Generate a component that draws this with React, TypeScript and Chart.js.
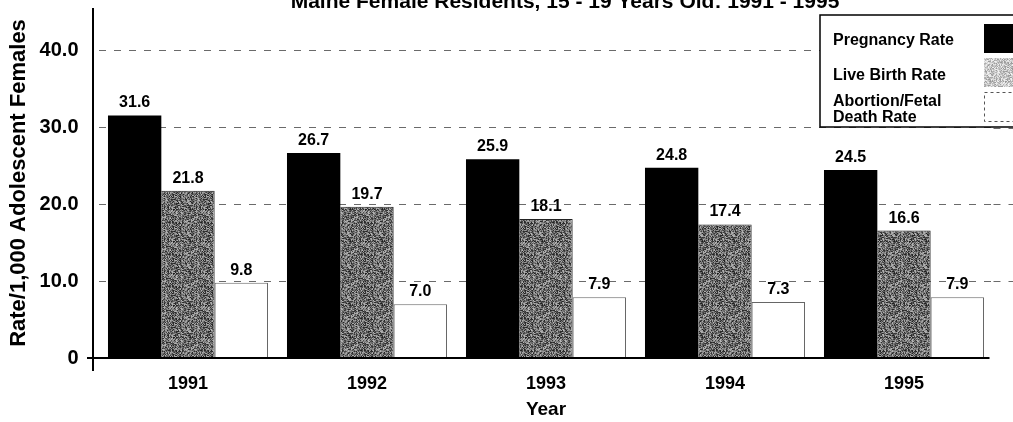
import React, { useEffect, useRef } from 'react';
import { Chart, registerables } from 'chart.js';

Chart.register(...registerables);

const YEARS = ['1991', '1992', '1993', '1994', '1995'];
const SERIES_LABELS = ['Pregnancy Rate', 'Live Birth Rate', 'Abortion/Fetal\nDeath Rate'];
const PREGNANCY = [31.6, 26.7, 25.9, 24.8, 24.5];
const LIVE_BIRTH = [21.8, 19.7, 18.1, 17.4, 16.6];
const ABORTION = [9.8, 7.0, 7.9, 7.3, 7.9];
const Y_TICKS = [0, 10, 20, 30, 40];
const Y_MAX = 45.6;
const TITLE = 'Maine Female Residents, 15 - 19 Years Old: 1991 - 1995';
const Y_TITLE = 'Rate/1,000 Adolescent Females';
const X_TITLE = 'Year';

const FAMILY = "'Liberation Sans', Arial, Helvetica, sans-serif";

function makeStipple(ctx: CanvasRenderingContext2D, lo: number, hi: number): CanvasPattern | string {
  const size = 32;
  const c = document.createElement('canvas');
  c.width = size;
  c.height = size;
  const g = c.getContext('2d');
  if (!g) return '#888';
  const img = g.createImageData(size, size);
  for (let y = 0; y < size; y++) {
    for (let x = 0; x < size; x++) {
      let h = (Math.imul(x, 374761393) + Math.imul(y, 668265263)) >>> 0;
      h = Math.imul(h ^ (h >>> 13), 1274126177) >>> 0;
      h = (h ^ (h >>> 16)) >>> 0;
      const t = (h & 255) / 255;
      const v = Math.round(lo + (hi - lo) * t);
      const i = (y * size + x) * 4;
      img.data[i] = v;
      img.data[i + 1] = v;
      img.data[i + 2] = v;
      img.data[i + 3] = 255;
    }
  }
  g.putImageData(img, 0, 0);
  return ctx.createPattern(c, 'repeat') || '#888';
}

export default function App() {
  const ref = useRef<HTMLCanvasElement | null>(null);

  useEffect(() => {
    document.body.style.margin = '0';
    const canvas = ref.current;
    if (!canvas) return;
    const ctx = canvas.getContext('2d');
    if (!ctx) return;

    const barGray = makeStipple(ctx, 30, 185);
    const legendGray = makeStipple(ctx, 150, 245);

    const decor = {
      id: 'decor',
      afterDatasetsDraw(chart: any) {
        const c = chart.ctx;
        c.save();
        c.fillStyle = '#000';
        c.font = `bold 16px ${FAMILY}`;
        c.textAlign = 'center';
        c.textBaseline = 'alphabetic';
        chart.data.datasets.forEach((ds: any, di: number) => {
          const meta = chart.getDatasetMeta(di);
          meta.data.forEach((bar: any, j: number) => {
            c.fillText(Number(ds.data[j]).toFixed(1), bar.x, bar.y - 8);
          });
        });
        c.restore();
      },
      afterDraw(chart: any) {
        const c = chart.ctx;
        const area = chart.chartArea;
        const yScale = chart.scales.y;
        c.save();
        // extend dashed grid lines to the right edge
        c.strokeStyle = '#6a6a6a';
        c.lineWidth = 1;
        c.setLineDash([7, 8]);
        Y_TICKS.forEach((v) => {
          if (v === 0) return;
          const y = Math.round(yScale.getPixelForValue(v)) + 0.5;
          c.beginPath();
          c.moveTo(area.right, y);
          c.lineTo(chart.width, y);
          c.stroke();
        });
        c.setLineDash([]);
        // axes lines
        const y0 = yScale.getPixelForValue(0);
        c.strokeStyle = '#000';
        c.lineWidth = 2;
        c.beginPath();
        c.moveTo(93, area.top);
        c.lineTo(93, y0 + 13);
        c.stroke();
        c.beginPath();
        c.moveTo(87, y0);
        c.lineTo(area.right - 4, y0);
        c.stroke();

        // legend
        const lx = 820;
        const ly = 15;
        const lb = 127;
        c.fillStyle = '#fff';
        c.fillRect(lx, ly, chart.width - lx + 5, lb - ly);
        c.strokeStyle = '#000';
        c.lineWidth = 1.5;
        c.strokeRect(lx, ly, chart.width - lx + 10, lb - ly);

        const swatches = [
          { top: 24, bottom: 53, fill: '#000' },
          { top: 58, bottom: 87, fill: legendGray },
          { top: 92, bottom: 121, fill: '#fff' },
        ];
        const textCenters = [41, 76, 102];
        c.font = `bold 16px ${FAMILY}`;
        c.textAlign = 'left';
        c.textBaseline = 'middle';
        chart.data.datasets.forEach((ds: any, i: number) => {
          const s = swatches[i];
          c.fillStyle = s.fill as any;
          c.fillRect(984, s.top, 40, s.bottom - s.top);
          if (i === 2) {
            c.strokeStyle = '#555';
            c.lineWidth = 1;
            c.setLineDash([3, 3]);
            c.strokeRect(984.5, s.top + 0.5, 40, s.bottom - s.top);
            c.setLineDash([]);
          }
          c.fillStyle = '#000';
          const lines = String(ds.label).split('\n');
          lines.forEach((line, k) => {
            c.fillText(line, 833, textCenters[i] + k * 16);
          });
        });

        // title (cut at the top edge)
        c.fillStyle = '#000';
        c.font = `bold 21px ${FAMILY}`;
        c.textAlign = 'center';
        c.textBaseline = 'alphabetic';
        c.fillText(TITLE, 565, 8);
        c.restore();
      },
    };

    const chart = new Chart(ctx, {
      type: 'bar',
      data: {
        labels: YEARS,
        datasets: [
          {
            label: SERIES_LABELS[0],
            data: PREGNANCY,
            backgroundColor: '#000',
            borderWidth: 0,
          },
          {
            label: SERIES_LABELS[1],
            data: LIVE_BIRTH,
            backgroundColor: barGray as any,
            borderColor: '#222',
            borderWidth: { top: 1, right: 1, left: 0, bottom: 0 },
          },
          {
            label: SERIES_LABELS[2],
            data: ABORTION,
            backgroundColor: '#fff',
            borderColor: '#666',
            borderWidth: { top: 1, right: 1, left: 1, bottom: 0 },
          },
        ],
      },
      options: {
        responsive: false,
        animation: false,
        devicePixelRatio: 1,
        datasets: {
          bar: { categoryPercentage: 0.894, barPercentage: 1 },
        },
        layout: { padding: { left: 0, right: 19.5, top: 8, bottom: 0 } },
        plugins: {
          legend: { display: false },
          tooltip: { enabled: false },
          title: { display: false },
        },
        scales: {
          x: {
            afterFit: (s: any) => {
              s.height = 64;
            },
            grid: { display: false, drawTicks: false },
            border: { display: false },
            ticks: {
              padding: 15.2,
              color: '#000',
              font: { family: FAMILY, size: 18, weight: 'bold' },
            },
            title: {
              display: true,
              text: X_TITLE,
              color: '#000',
              font: { family: FAMILY, size: 19, weight: 'bold' },
              padding: { top: 6, bottom: 0.6 },
            },
          },
          y: {
            min: 0,
            max: Y_MAX,
            afterBuildTicks: (s: any) => {
              s.ticks = Y_TICKS.map((v) => ({ value: v }));
            },
            afterFit: (s: any) => {
              s.width = 98.5;
              s.paddingTop = 0;
              s.paddingBottom = 0;
            },
            grid: {
              color: (c: any) => (c.tick && c.tick.value === 0 ? 'rgba(0,0,0,0)' : '#6a6a6a'),
              lineWidth: 1,
              drawTicks: false,
            },
            border: { display: false, dash: [7, 8] },
            ticks: {
              padding: 20,
              color: '#000',
              font: { family: FAMILY, size: 20, weight: 'bold' },
              callback: (v: any) => (Number(v) === 0 ? '0' : Number(v).toFixed(1)),
            },
            title: {
              display: true,
              text: Y_TITLE,
              color: '#000',
              font: { family: FAMILY, size: 22, weight: 'bold' },
              padding: { top: 5.5, bottom: 0 },
            },
          },
        },
      },
      plugins: [decor],
    } as any);

    return () => {
      chart.destroy();
    };
  }, []);

  return (
    <div style={{ width: 1013, height: 422, background: '#fff' }}>
      <canvas ref={ref} width={1013} height={422} style={{ display: 'block' }} />
    </div>
  );
}
